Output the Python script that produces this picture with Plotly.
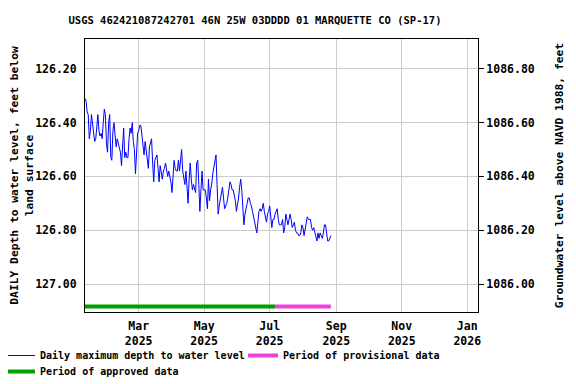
import pandas as pd
import plotly.graph_objects as go

# USGS 462421087242701 - daily maximum depth to water level (feet below land surface)
start_date = "2025-01-10"
depth = [
    126.31, 126.32, 126.36, 126.37, 126.46, 126.43, 126.37, 126.40, 126.45, 126.47,
    126.46, 126.40, 126.37, 126.43, 126.45, 126.44, 126.46, 126.40, 126.35,
    126.37, 126.48, 126.51, 126.40, 126.37, 126.53, 126.54, 126.43, 126.40,
    126.46, 126.49, 126.46, 126.48, 126.49, 126.51, 126.56, 126.46, 126.42,
    126.53, 126.51, 126.53, 126.53, 126.46, 126.42, 126.44,
    126.40, 126.47, 126.50, 126.59, 126.50, 126.44, 126.43, 126.41, 126.41,
    126.45, 126.48, 126.52, 126.47, 126.50, 126.53, 126.57, 126.49, 126.47,
    126.46, 126.55, 126.62, 126.54, 126.53, 126.52, 126.57, 126.62, 126.56,
    126.58, 126.61, 126.58, 126.57, 126.55, 126.58, 126.60, 126.58, 126.60,
    126.62, 126.66, 126.60, 126.54, 126.57, 126.58, 126.58, 126.54, 126.58,
    126.53, 126.50, 126.58, 126.61, 126.63, 126.58, 126.65, 126.70, 126.61,
    126.55, 126.61, 126.65, 126.63, 126.65, 126.66, 126.55, 126.54, 126.63,
    126.73, 126.65, 126.58, 126.65, 126.65, 126.65, 126.68, 126.72, 126.61,
    126.69, 126.65, 126.63, 126.59, 126.57, 126.54, 126.52, 126.63, 126.74,
    126.71, 126.68, 126.65, 126.64, 126.68, 126.72, 126.71, 126.70, 126.68,
    126.64, 126.62, 126.63, 126.65, 126.65, 126.67, 126.69, 126.73, 126.71,
    126.68, 126.64, 126.61, 126.65, 126.74, 126.78, 126.74, 126.71, 126.70,
    126.68, 126.68, 126.70, 126.71, 126.73, 126.75, 126.76, 126.78, 126.81,
    126.77, 126.73, 126.72, 126.73, 126.72, 126.70, 126.73, 126.75, 126.77, 126.74,
    126.73, 126.71, 126.76, 126.79, 126.76, 126.76, 126.74, 126.73, 126.72, 126.76,
    126.78, 126.78, 126.78, 126.76, 126.81, 126.79, 126.74, 126.76, 126.78, 126.76,
    126.74, 126.76, 126.79, 126.78, 126.77, 126.80, 126.81, 126.81, 126.82, 126.82,
    126.81, 126.78, 126.79, 126.82, 126.79, 126.76, 126.75, 126.76, 126.76, 126.76,
    126.79, 126.80, 126.79, 126.81, 126.83, 126.84, 126.81, 126.83, 126.81, 126.82,
    126.83, 126.81, 126.78, 126.78, 126.82, 126.84, 126.84, 126.83, 126.82,
]
dates = pd.date_range(start_date, periods=len(depth), freq="D")

approved_period = ["2025-01-09", "2025-07-06"]
provisional_period = ["2025-07-06", "2025-08-27"]

land_surface = 1213.00  # depth 126.20 <-> elevation 1086.80
x_range = ["2025-01-10", "2026-01-11"]
depth_range = [127.104, 126.089]
month_ticks = ["2025-03-01", "2025-05-01", "2025-07-01", "2025-09-01", "2025-11-01", "2026-01-01"]
month_labels = ["Mar<br>2025", "May<br>2025", "Jul<br>2025", "Sep<br>2025", "Nov<br>2025", "Jan<br>2026"]
depth_ticks = [126.2, 126.4, 126.6, 126.8, 127.0]
elev_ticks = [1086.0, 1086.2, 1086.4, 1086.6, 1086.8]

MONO = "DejaVu Sans Mono"
bar_depth = depth_range[0] - 0.02

# page body adds an 8px margin, so the figure is drawn 8px smaller
W, H = 568, 376
PW = 393  # plot width in px
leg_font = dict(family=MONO, size=10, weight="bold")

fig = go.Figure()
fig.add_trace(go.Scatter(
    x=dates, y=depth, mode="lines",
    line=dict(color="#0000ff", width=1),
    name="Daily maximum depth to water level", legend="legend",
))
fig.add_trace(go.Scatter(
    x=provisional_period, y=[bar_depth] * 2, mode="lines",
    line=dict(color="#f03fdc", width=4),
    name="Period of provisional data", legend="legend2",
))
fig.add_trace(go.Scatter(
    x=approved_period, y=[bar_depth] * 2, mode="lines",
    line=dict(color="#00a000", width=4),
    name="Period of approved data", legend="legend3",
))
# invisible trace to drive the right-hand elevation axis
fig.add_trace(go.Scatter(
    x=[dates[0]], y=[land_surface - depth[0]], yaxis="y2",
    mode="markers", marker=dict(opacity=0), showlegend=False, hoverinfo="skip",
))

fig.update_layout(
    width=W, height=H,
    margin=dict(l=77, r=98, t=31, b=72, autoexpand=False),
    paper_bgcolor="white", plot_bgcolor="white",
    font=dict(family=MONO, size=11.5, color="black", weight="bold"),
    title=dict(
        text="USGS 462421087242701 46N 25W 03DDDD 01 MARQUETTE CO (SP-17)",
        x=247 / W, y=1 - 12 / H, xanchor="center", yanchor="middle",
        font=dict(family=MONO, size=10.5, weight="bold"),
    ),
    xaxis=dict(
        range=x_range, tickvals=month_ticks, ticktext=month_labels,
        showgrid=True, gridcolor="#cccccc", gridwidth=1,
        showline=True, linecolor="black", linewidth=1, mirror=True,
        ticks="", zeroline=False, automargin=False, ticklabelstandoff=3,
        tickfont=dict(family=MONO, size=11.5, weight="bold"),
    ),
    yaxis=dict(
        range=depth_range, tickvals=depth_ticks,
        ticktext=[f"{v:.2f}" for v in depth_ticks],
        showgrid=True, gridcolor="#cccccc", gridwidth=1,
        showline=True, linecolor="black", linewidth=1, mirror=True,
        ticks="", zeroline=False, automargin=False, ticklabelstandoff=5,
        title=dict(text="DAILY Depth to water level, feet below<br>land surface",
                   font=dict(family=MONO, size=11.3, weight="bold"), standoff=11),
        tickfont=dict(family=MONO, size=11.5, weight="bold"),
    ),
    yaxis2=dict(
        overlaying="y", side="right",
        range=[land_surface - depth_range[0], land_surface - depth_range[1]],
        tickvals=elev_ticks, ticktext=[f"{v:.2f}" for v in elev_ticks],
        showgrid=False, zeroline=False, automargin=False,
        ticks="outside", ticklen=5, tickcolor="black",
        title=dict(text="Groundwater level above NAVD 1988, feet",
                   font=dict(family=MONO, size=11.3, weight="bold"), standoff=21),
        tickfont=dict(family=MONO, size=11.5, weight="bold"),
    ),
    legend=dict(
        x=-85 / PW, y=-29 / 273, xanchor="left", yanchor="top",
        font=leg_font, bgcolor="rgba(0,0,0,0)",
    ),
    legend2=dict(
        x=158 / PW, y=-29 / 273, xanchor="left", yanchor="top",
        font=leg_font, bgcolor="rgba(0,0,0,0)",
    ),
    legend3=dict(
        x=-85 / PW, y=-45 / 273, xanchor="left", yanchor="top",
        font=leg_font, bgcolor="rgba(0,0,0,0)",
    ),
    showlegend=True,
)

fig.write_html("out.html")
